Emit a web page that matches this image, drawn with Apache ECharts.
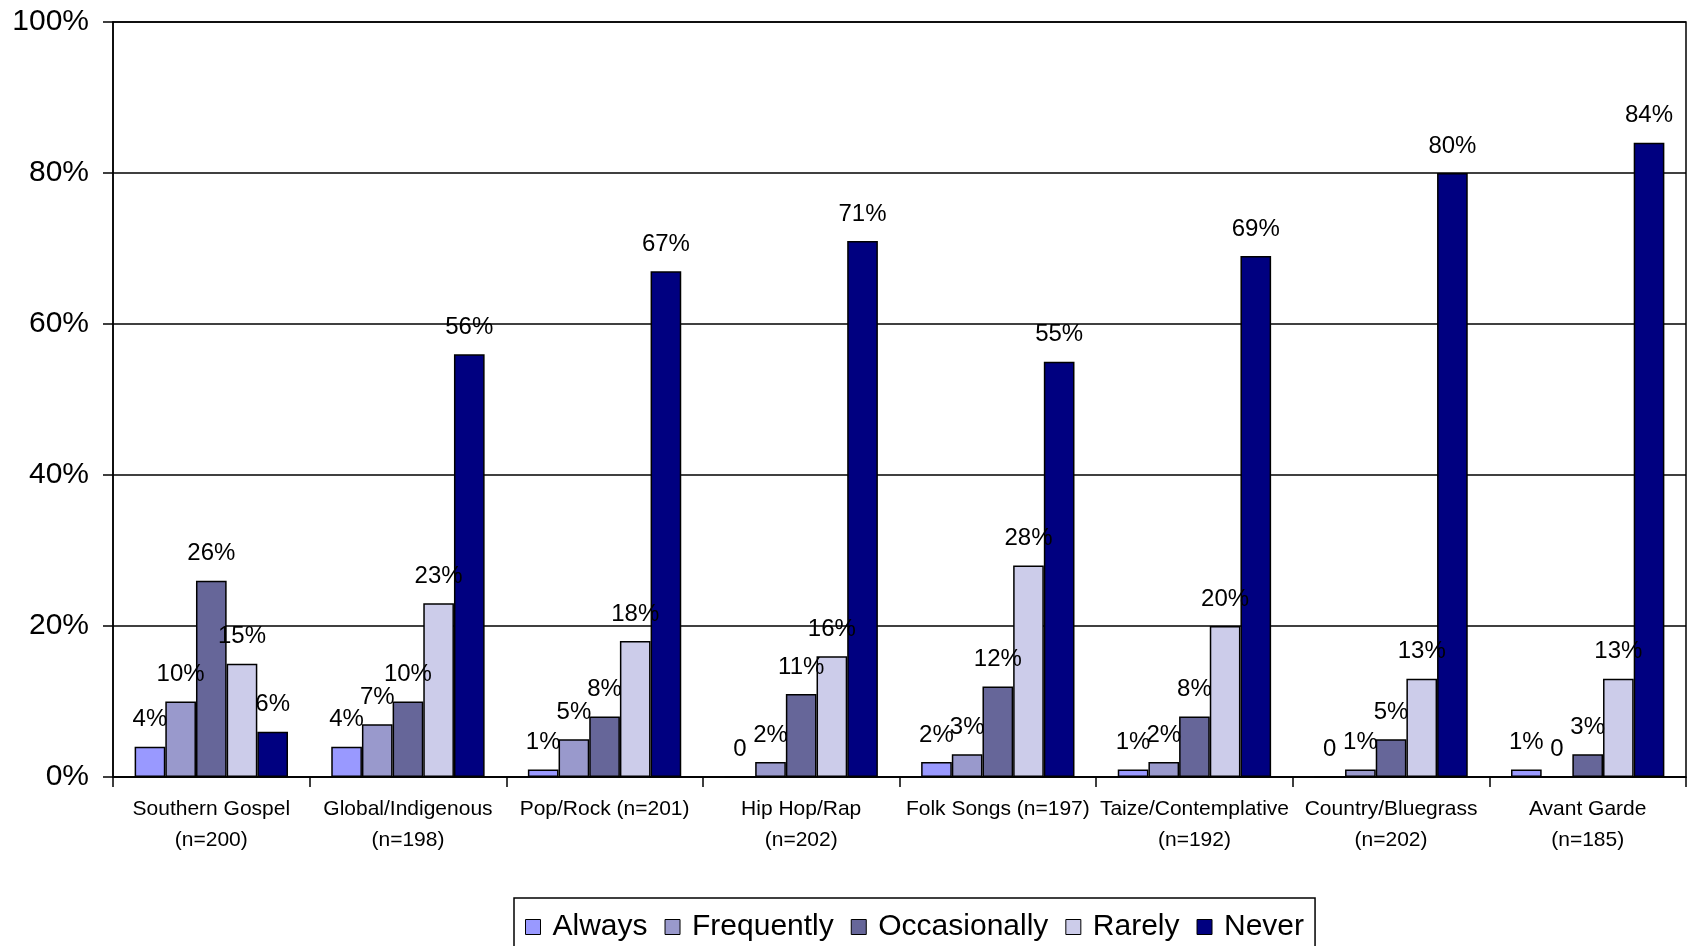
<!DOCTYPE html>
<html>
<head>
<meta charset="utf-8">
<script src="https://cdn.jsdelivr.net/npm/echarts@6/dist/echarts.min.js"></script>
<style>
  html, body { margin: 0; padding: 0; background: #fff; }
  #chart { width: 1694px; height: 946px; }
</style>
</head>
<body>
<div id="chart"></div>
<script>
const categories = [
  'Southern Gospel\n(n=200)',
  'Global/Indigenous\n(n=198)',
  'Pop/Rock (n=201)',
  'Hip Hop/Rap\n(n=202)',
  'Folk Songs (n=197)',
  'Taize/Contemplative\n(n=192)',
  'Country/Bluegrass\n(n=202)',
  'Avant Garde\n(n=185)'
];
const seriesNames = ['Always', 'Frequently', 'Occasionally', 'Rarely', 'Never'];
const always = [4, 4, 1, 0, 2, 1, 0, 1];
const frequently = [10, 7, 5, 2, 3, 2, 1, 0];
const occasionally = [26, 10, 8, 11, 12, 8, 5, 3];
const rarely = [15, 23, 18, 16, 28, 20, 13, 13];
const never = [6, 56, 67, 71, 55, 69, 80, 84];
const colors = ['#9999ff', '#9999cc', '#666699', '#ccccea', '#000080'];

const font = 'Liberation Sans, Arial, sans-serif';
const chart = echarts.init(document.getElementById('chart'));

const values = [always, frequently, occasionally, rarely, never];
let series = [];
seriesNames.forEach((name, i) => {
  series.push({
    name: name,
    type: 'bar',
    barGap: 0,
    barCategoryGap: '22%',
    data: values[i],
    itemStyle: { color: colors[i], borderColor: '#000', borderWidth: 1.5 },
    label: {
      show: true,
      position: 'top',
      distance: 15,
      fontFamily: font,
      fontSize: 24,
      color: '#000',
      formatter: (p) => p.value === 0 ? '0' : p.value + '%'
    }
  });
});

const option = {
  animation: false,
  color: colors,
  grid: {
    left: 113, right: 8, top: 22, bottom: 169,
    show: true, borderColor: '#000', borderWidth: 1.5
  },
  legend: {
    left: 514, top: 898,
    data: seriesNames,
    icon: 'rect',
    itemWidth: 15, itemHeight: 15,
    itemGap: 17,
    padding: [14, 11, 14, 11],
    borderColor: '#000', borderWidth: 1.5,
    itemStyle: { borderColor: '#000', borderWidth: 1 },
    textStyle: { fontFamily: font, fontSize: 30, color: '#000', padding: [0, 0, 0, 7] }
  },
  xAxis: {
    type: 'category',
    data: categories,
    axisLine: { lineStyle: { color: '#000', width: 1.5 } },
    axisTick: { show: true, length: 10, lineStyle: { color: '#000', width: 1.5 } },
    axisLabel: {
      interval: 0, margin: 17,
      fontFamily: font, fontSize: 21, lineHeight: 31, color: '#000'
    }
  },
  yAxis: {
    type: 'value',
    min: 0, max: 100, interval: 20,
    axisLine: { show: true, lineStyle: { color: '#000', width: 1.5 } },
    axisTick: { show: true, length: 10, lineStyle: { color: '#000', width: 1.5 } },
    splitLine: { lineStyle: { color: '#000', width: 1.5 } },
    axisLabel: {
      formatter: '{value}%', margin: 24,
      fontFamily: font, fontSize: 30, color: '#000'
    }
  },
  series: series
};

chart.setOption(option);
</script>
</body>
</html>
